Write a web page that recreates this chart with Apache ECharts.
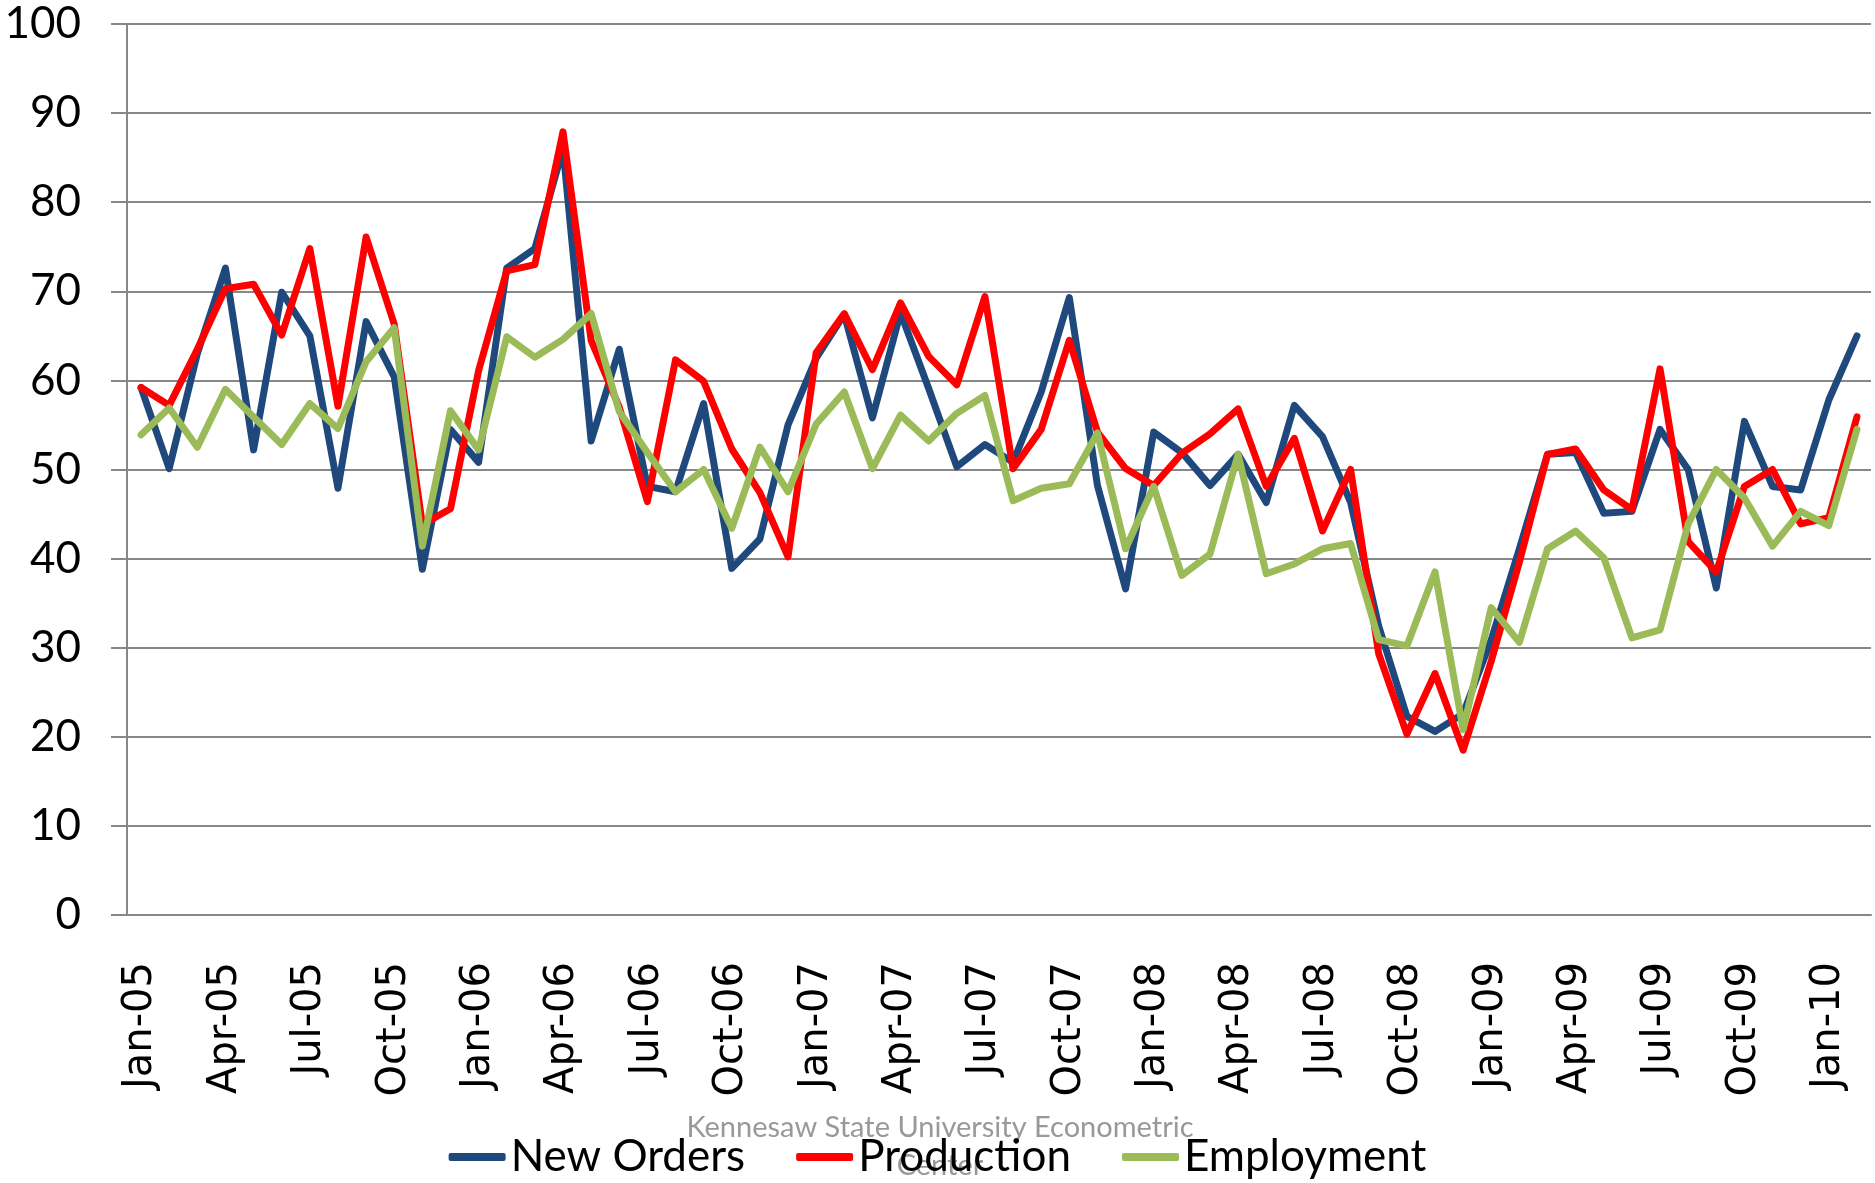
<!DOCTYPE html>
<html>
<head>
<meta charset="utf-8">
<script src="https://cdn.jsdelivr.net/npm/echarts@6/dist/echarts.min.js"></script>
<style>
  html, body { margin: 0; padding: 0; background: #fff; }
  #chart { width: 1875px; height: 1183px; }
</style>
</head>
<body>
<div id="chart"></div>
<script>
// months Jan-05 .. Feb-10
const months = [
  "Jan-05", "Feb-05", "Mar-05", "Apr-05", "May-05", "Jun-05", "Jul-05", "Aug-05", "Sep-05", "Oct-05", "Nov-05", "Dec-05",
  "Jan-06", "Feb-06", "Mar-06", "Apr-06", "May-06", "Jun-06", "Jul-06", "Aug-06", "Sep-06", "Oct-06", "Nov-06", "Dec-06",
  "Jan-07", "Feb-07", "Mar-07", "Apr-07", "May-07", "Jun-07", "Jul-07", "Aug-07", "Sep-07", "Oct-07", "Nov-07", "Dec-07",
  "Jan-08", "Feb-08", "Mar-08", "Apr-08", "May-08", "Jun-08", "Jul-08", "Aug-08", "Sep-08", "Oct-08", "Nov-08", "Dec-08",
  "Jan-09", "Feb-09", "Mar-09", "Apr-09", "May-09", "Jun-09", "Jul-09", "Aug-09", "Sep-09", "Oct-09", "Nov-09", "Dec-09",
  "Jan-10", "Feb-10"
];

const newOrders = [
  59.2, 50.1, 63.0, 72.6, 52.2, 69.9, 65.0, 47.9, 66.6, 60.4, 38.8, 54.5,
  50.8, 72.6, 74.8, 86.0, 53.2, 63.5, 48.1, 47.5, 57.4, 38.9, 42.2, 55.0,
  62.5, 67.4, 55.8, 67.6, 59.1, 50.3, 52.8, 50.8, 58.7, 69.3, 48.2, 36.6,
  54.2, 51.9, 48.2, 51.7, 46.3, 57.2, 53.7, 46.3, 32.4, 22.3, 20.6, 22.6,
  30.9, 41.1, 51.7, 51.9, 45.1, 45.3, 54.5, 50.0, 36.7, 55.4, 48.1, 47.7,
  57.8, 65.0
];

const production = [
  59.2, 57.2, 63.5, 70.3, 70.8, 65.1, 74.8, 57.1, 76.1, 66.3, 43.8, 45.6,
  61.1, 72.3, 73.0, 87.9, 64.5, 57.0, 46.4, 62.3, 59.9, 52.3, 47.4, 40.2,
  63.1, 67.5, 61.2, 68.7, 62.7, 59.5, 69.4, 50.1, 54.5, 64.5, 54.2, 50.1,
  48.2, 51.8, 54.0, 56.8, 48.1, 53.5, 43.1, 50.0, 29.3, 20.3, 27.1, 18.5,
  28.5, 39.6, 51.7, 52.3, 47.7, 45.5, 61.3, 41.9, 38.5, 48.1, 50.0, 43.9,
  44.6, 55.9
];

const employment = [
  53.9, 56.9, 52.5, 59.0, 55.9, 52.8, 57.4, 54.6, 62.1, 65.9, 41.4, 56.6,
  52.2, 64.9, 62.6, 64.6, 67.5, 56.5, 51.9, 47.5, 50.0, 43.4, 52.5, 47.5,
  55.1, 58.7, 50.1, 56.1, 53.2, 56.3, 58.3, 46.5, 47.9, 48.4, 54.1, 41.1,
  48.1, 38.1, 40.5, 51.7, 38.3, 39.4, 41.1, 41.7, 30.9, 30.2, 38.5, 20.8,
  34.5, 30.6, 41.1, 43.1, 40.1, 31.1, 32.0, 43.9, 50.0, 46.8, 41.4, 45.3,
  43.7, 54.5
];

const seriesNames = ["New Orders", "Production", "Employment"];
const seriesColors = ["#1F497D", "#FF0000", "#9BBB59"];

const chart = echarts.init(document.getElementById("chart"));
const font = "Lato, 'Noto Sans', sans-serif";
const gridColor = "#878787";

const option = {
  animation: false,
  color: seriesColors,
  grid: { left: 127, right: 4, top: 24, bottom: 268, containLabel: false },
  legend: {
    data: seriesNames,
    bottom: -1,
    left: "center",
    icon: "roundRect",
    itemWidth: 57,
    itemHeight: 8,
    itemGap: 51,
    textStyle: { fontFamily: font, fontSize: 44, color: "#000" },
  },
  // 水印文字，放在图例下面
  graphic: [
    {
      type: "text",
      x: 940,
      y: 1109,
      z: 0,
      style: {
        text: "Kennesaw State University Econometric\nCenter",
        fill: "#999",
        font: "29px " + font,
        align: "center",
        verticalAlign: "top",
        lineHeight: 38,
      },
    },
  ],
  xAxis: {
    type: "category",
    data: months,
    boundaryGap: true,
    axisLine: { lineStyle: { color: gridColor, width: 2 } },
    axisTick: { interval: 2, length: 16, lineStyle: { color: gridColor, width: 2 } },
    axisLabel: {
      interval: 2,
      rotate: 90,
      margin: 47,
      fontFamily: "'DejaVu Sans', sans-serif",
      fontSize: 40,
      color: "#000",
    },
  },
  yAxis: {
    type: "value",
    min: 0,
    max: 100,
    interval: 10,
    axisLine: { show: true, lineStyle: { color: gridColor, width: 2 } },
    axisTick: { show: true, length: 16, lineStyle: { color: gridColor, width: 2 } },
    splitLine: { lineStyle: { color: gridColor, width: 2 } },
    axisLabel: { margin: 46, fontFamily: font, fontSize: 44, color: "#000" },
  },
  series: [
    { name: seriesNames[0], data: newOrders },
    { name: seriesNames[1], data: production },
    { name: seriesNames[2], data: employment },
  ].map((s, i) => ({
    ...s,
    type: "line",
    symbol: "none",
    lineStyle: { width: 7, color: seriesColors[i], cap: "round", join: "round" },
    itemStyle: { color: seriesColors[i] },
  })),
};

chart.setOption(option);
</script>
</body>
</html>
